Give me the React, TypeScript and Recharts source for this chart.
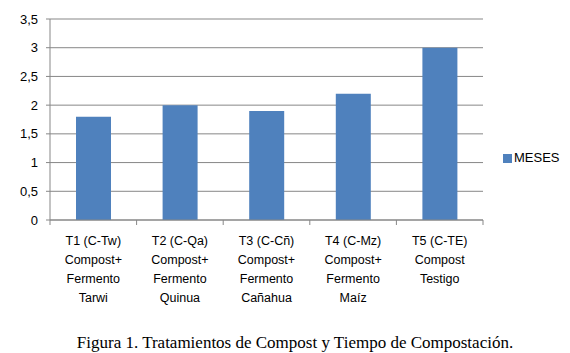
import { BarChart, Bar, XAxis, YAxis, CartesianGrid, Legend } from 'recharts'

const categories = [
	['T1 (C-Tw)', 'Compost+', 'Fermento', 'Tarwi'],
	['T2 (C-Qa)', 'Compost+', 'Fermento', 'Quinua'],
	['T3 (C-Cñ)', 'Compost+', 'Fermento', 'Cañahua'],
	['T4 (C-Mz)', 'Compost+', 'Fermento', 'Maíz'],
	['T5 (C-TE)', 'Compost', 'Testigo'],
]
const meses = [1.8, 2.0, 1.9, 2.2, 3.0]
const yTicks = [0, 0.5, 1, 1.5, 2, 2.5, 3, 3.5]
const caption = 'Figura 1. Tratamientos de Compost y Tiempo de Compostación.'

const data = categories.map((lines, i) => ({ name: lines.join('\n'), MESES: meses[i] }))

const font = "'Liberation Sans', Arial, sans-serif"
const grid = '#878787'

const CategoryTick = (props: any) => {
	const { x, y, payload, index } = props
	const half = payload.offset || 43.3
	const lines = String(payload.value).split('\n')
	return (
		<g>
			<line x1={x - half} y1={y - 8} x2={x - half} y2={y - 3} stroke={grid} />
			{index === categories.length - 1 && (
				<line x1={x + half} y1={y - 8} x2={x + half} y2={y - 3} stroke={grid} />
			)}
			<text x={x} y={y + 17} textAnchor='middle' fontSize={12.5} fontFamily={font} fill='#000'>
				{lines.map((l, i) => (
					<tspan key={i} x={x} dy={i === 0 ? 0 : 19}>
						{l}
					</tspan>
				))}
			</text>
		</g>
	)
}

const App = () => {
	return (
		<div style={{ position: 'absolute', left: 0, top: 0, width: 570, height: 353, background: '#fff' }}>
			<BarChart
				width={570}
				height={353}
				data={data}
				margin={{ top: 19, right: 17, left: 0, bottom: 0 }}
				barSize={35}
			>
				<CartesianGrid vertical={false} stroke={grid} />
				<XAxis
					dataKey='name'
					interval={0}
					height={133}
					stroke={grid}
					tickLine={false}
					tick={<CategoryTick />}
				/>
				<YAxis
					width={50}
					domain={[0, 3.5]}
					ticks={yTicks}
					stroke={grid}
					tickSize={4}
					tickMargin={8}
					tick={{ fill: '#000', fontSize: 13, fontFamily: font }}
					tickFormatter={v => String(v).replace('.', ',')}
				/>
				<Legend
					layout='vertical'
					align='right'
					verticalAlign='middle'
					iconType='square'
					iconSize={9}
					wrapperStyle={{ left: 503, top: 150, width: 70, fontFamily: font, fontSize: 13 }}
					formatter={v => <span style={{ color: '#000', marginLeft: -2 }}>{v}</span>}
				/>
				<Bar dataKey='MESES' fill='#4F81BD' isAnimationActive={false} />
			</BarChart>
			<div
				style={{
					position: 'absolute',
					left: 0,
					top: 333,
					width: 590,
					textAlign: 'center',
					fontFamily: "'Liberation Serif', 'Times New Roman', serif",
					fontSize: 17,
					color: '#000',
				}}
			>
				{caption}
			</div>
		</div>
	)
}

export default App
